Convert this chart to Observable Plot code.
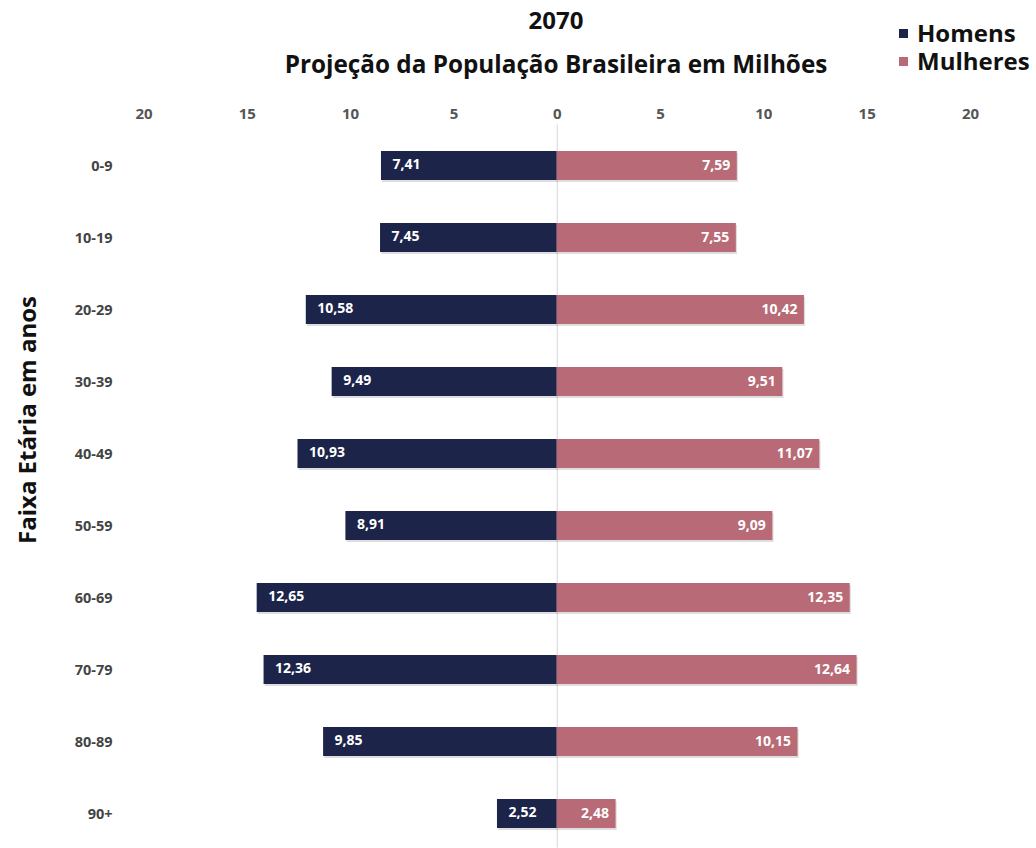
<!DOCTYPE html>
<html>
<head>
<meta charset="utf-8">
<script src="https://cdn.jsdelivr.net/npm/d3@7"></script>
<script src="https://cdn.jsdelivr.net/npm/@observablehq/plot@0.6"></script>
<style>
  body { margin: 0; background: #fff; font-family: "Open Sans", sans-serif; }
  #wrap { position: relative; width: 1036px; height: 848px; overflow: hidden; }
  #wrap svg { position: absolute; left: 0; top: 0; }
  .t { position: absolute; font-weight: 700; color: #111; white-space: nowrap; line-height: 1; }
  #title { left: 0; width: 1112px; text-align: center; top: 8px; font-size: 24px; }
  #subtitle { left: 0; width: 1112px; text-align: center; top: 52px; font-size: 24.3px; }
  #ytitle { left: 27px; top: 420px; font-size: 24px; transform: translate(-50%, -50%) rotate(-90deg); }
  .leg { position: absolute; left: 899px; font-size: 24px; font-weight: 700; color: #111; white-space: nowrap; line-height: 1; display: flex; align-items: center; height: 24px; }
  .leg span.sw { display: inline-block; width: 9px; height: 9px; margin-right: 9px; }
</style>
</head>
<body>
<div id="wrap">
  <div id="title" class="t">2070</div>
  <div id="subtitle" class="t">Projeção da População Brasileira em Milhões</div>
  <div id="ytitle" class="t">Faixa Etária em anos</div>
  <div class="leg" style="top:21px"><span class="sw" style="background:#1c2449"></span>Homens</div>
  <div class="leg" style="top:49px"><span class="sw" style="background:#b86b76"></span>Mulheres</div>
</div>
<script>
// Data
const faixas = ["0-9","10-19","20-29","30-39","40-49","50-59","60-69","70-79","80-89","90+"];
const homens = [7.41, 7.45, 10.58, 9.49, 10.93, 8.91, 12.65, 12.36, 9.85, 2.52];
const mulheres = [7.59, 7.55, 10.42, 9.51, 11.07, 9.09, 12.35, 12.64, 10.15, 2.48];
const ticksEixo = [-20, -15, -10, -5, 0, 5, 10, 15, 20];
const sexos = ["Homens", "Mulheres"];
const cores = ["#1c2449", "#b86b76"];
// In the original, bar lengths on the axis are about 1.148x the printed labels
const escalaEixo = 1.148;

const linhasH = faixas.map((f, i) => ({faixa: f, sexo: "Homens", valor: -homens[i], rotulo: homens[i]}));
const linhasM = faixas.map((f, i) => ({faixa: f, sexo: "Mulheres", valor: mulheres[i], rotulo: mulheres[i]}));
const linhas = linhasH.concat(linhasM);
const fmt = d => d.rotulo.toFixed(2).replace(".", ",");

const chart = Plot.plot({
  width: 1036,
  height: 848,
  marginLeft: 143.5,
  marginRight: 66,
  marginTop: 131.5,
  marginBottom: 0.5,
  style: {fontFamily: "'Open Sans', sans-serif", background: "transparent"},
  x: {domain: [-20 / escalaEixo, 20 / escalaEixo]},
  y: {domain: faixas, paddingInner: 0.6, paddingOuter: 0.25},
  color: {domain: sexos, range: cores},
  marks: [
    Plot.ruleX([0], {stroke: "#dcdcdc", strokeWidth: 1.2, insetTop: -7}),
    Plot.barX(linhas, {x1: 0, x2: "valor", y: "faixa", fill: "#000", fillOpacity: 0.13, dx: 1.2, dy: 2}),
    Plot.barX(linhas, {x1: 0, x2: "valor", y: "faixa", fill: "sexo"}),
    Plot.text(linhasH, {x: "valor", y: "faixa", text: fmt, textAnchor: "start", dx: 11, dy: -1,
      fill: "white", fontWeight: 700, fontSize: 14}),
    Plot.text(linhasM, {x: "valor", y: "faixa", text: fmt, textAnchor: "end", dx: -7,
      fill: "white", fontWeight: 700, fontSize: 14}),
    Plot.axisX({anchor: "top", ticks: ticksEixo.map(t => t / escalaEixo),
      tickFormat: d => String(Math.abs(Math.round(d * escalaEixo))),
      tickSize: 0, tickPadding: 13, fontSize: 15, fontWeight: 700, color: "#555", label: null}),
    Plot.axisY({anchor: "left", tickSize: 0, tickPadding: 31.5, fontSize: 14.5, fontWeight: 700,
      color: "#444", label: null})
  ]
});
document.getElementById("wrap").insertBefore(chart, document.getElementById("wrap").firstChild);
</script>
</body>
</html>
